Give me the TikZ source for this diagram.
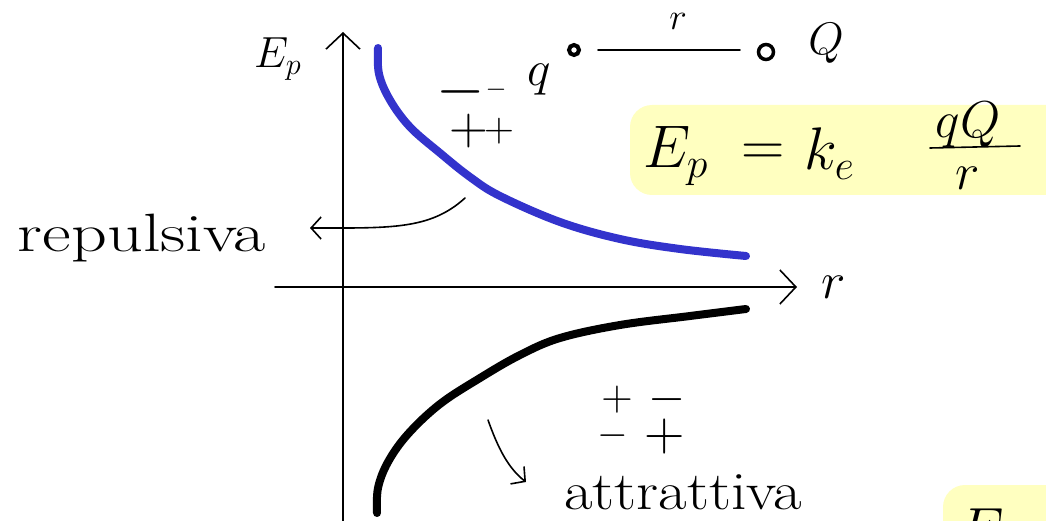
\documentclass[tikz,border=0pt]{standalone}
\usetikzlibrary{arrows.meta}
\definecolor{curveblue}{RGB}{51,51,204}
\definecolor{hilite}{RGB}{255,255,192}
\newcommand{\mathscaled}[2]{\scalebox{#1}{$#2$}}
\tikzset{
  pen/.style={line width=1.6pt, line cap=round, line join=round},
  openv/.style={-{Straight Barb[length=16pt,width=34pt,line width=1.6pt]}},
  smallv/.style={-{Straight Barb[length=10pt,width=22pt,line width=1.6pt]}},
  thick curve/.style={line width=8pt, line cap=round, line join=round},
  fs/.style={font=\fontsize{#1}{#1}\selectfont, inner sep=0pt},
  mt/.style={font=\fontsize{20}{24}\selectfont, inner sep=0pt},
  box/.style={fill=hilite, rounded corners=22pt, draw=none}
}
\begin{document}
\begin{tikzpicture}[x=1pt,y=-1pt]
\useasboundingbox (0,0) rectangle (1046,521);
% highlight boxes
\fill[box] (630,105) rectangle (1070,195);
\begin{scope}
\clip (0,0) rectangle (1046,521);
\fill[box] (943,485) rectangle (1100,580);
\node[mt, anchor=base west] (ecut) at (958,548) {\mathscaled{2.8}{E=}};
\end{scope}
% axes
\coordinate (ybot) at (343,521);
\coordinate (ytop) at (343,32);
\coordinate (xl) at (275,287);
\coordinate (xr) at (797,287);
\draw[pen, openv] (ybot) -- (ytop);
\draw[pen, openv] (xl) -- (xr);
\node[mt, anchor=base west] (Ep) at (254,68) {\mathscaled{2.1}{E_p}};
\node[mt] (rlab) at (834,287) {\mathscaled{2.5}{r}};
% blue curve (repulsive)
\draw[thick curve, curveblue] plot[smooth, tension=0.6] coordinates {
  (378,48) (379,74) (390,100) (410,127) (440,153) (470,177) (500,196)
  (560,222) (620,239) (680,249) (746,256)};
% black curve (attractive)
\draw[thick curve] plot[smooth, tension=0.6] coordinates {
  (377,513) (378,488) (388,462) (408,434) (440,404) (480,378) (520,355)
  (560,338) (620,325) (690,316) (746,309)};
% charges
\node[mt] (q) at (539,80) {\mathscaled{2.4}{q}};
\node[circle, draw, line width=4pt, inner sep=0pt, minimum size=10pt] (qdot) at (574,50) {};
\node[circle, draw, line width=3.5pt, inner sep=0pt, minimum size=15pt] (Qdot) at (766,52) {};
\node[mt] (Q) at (826,43) {\mathscaled{2.2}{Q}};
\coordinate (lineL) at (598,50);
\coordinate (lineR) at (740,50);
\draw[pen] (lineL) -- (lineR);
\node[mt] (rtop) at (678,21) {\mathscaled{1.8}{r}};
% formula
\node[mt, anchor=base west] (Epf) at (643,168) {\mathscaled{2.9}{E_p}};
\node[mt] (eq) at (763,155) {\mathscaled{2.9}{=}};
\node[mt, anchor=base west] (ke) at (804,170) {\mathscaled{2.9}{k_e}};
\node[mt] (num) at (968,125) {\mathscaled{2.5}{qQ}};
\coordinate (barL) at (930,148);
\coordinate (barR) at (1020,146);
\draw[pen] (barL) -- (barR);
\node[mt] (den) at (968,178) {\mathscaled{2.5}{r}};
% sign labels
\node[mt] (m1) at (461,92) {\mathscaled{3.0}{-}};
\node[mt] (m2) at (496,90) {\mathscaled{1.3}{-}};
\node[mt] (p1) at (469,131) {\mathscaled{2.6}{+}};
\node[mt] (p2) at (499,131) {\mathscaled{2.0}{+}};
\node[mt] (s11) at (617,400) {\mathscaled{2.1}{+}};
\node[mt] (s12) at (667,400) {\mathscaled{2.3}{-}};
\node[mt] (s21) at (613,436) {\mathscaled{1.9}{-}};
\node[mt] (s22) at (665,436) {\mathscaled{2.7}{+}};
% repulsiva
\node[fs=54] (rep) at (142,238) {\scalebox{1.3}[1]{repulsiva}};
\coordinate (repstart) at (465,198);
\coordinate (repend) at (310,228);
\draw[pen, smallv] (repstart) .. controls (430,230) and (390,228) .. (repend);
% attrattiva
\node[fs=54] (att) at (683,492) {\scalebox{1.15}[1]{attrattiva}};
\coordinate (attstart) at (488,420);
\coordinate (attend) at (526,482);
\draw[pen, smallv] (attstart) .. controls (498,448) and (508,468) .. (attend);
\end{tikzpicture}
\end{document}
